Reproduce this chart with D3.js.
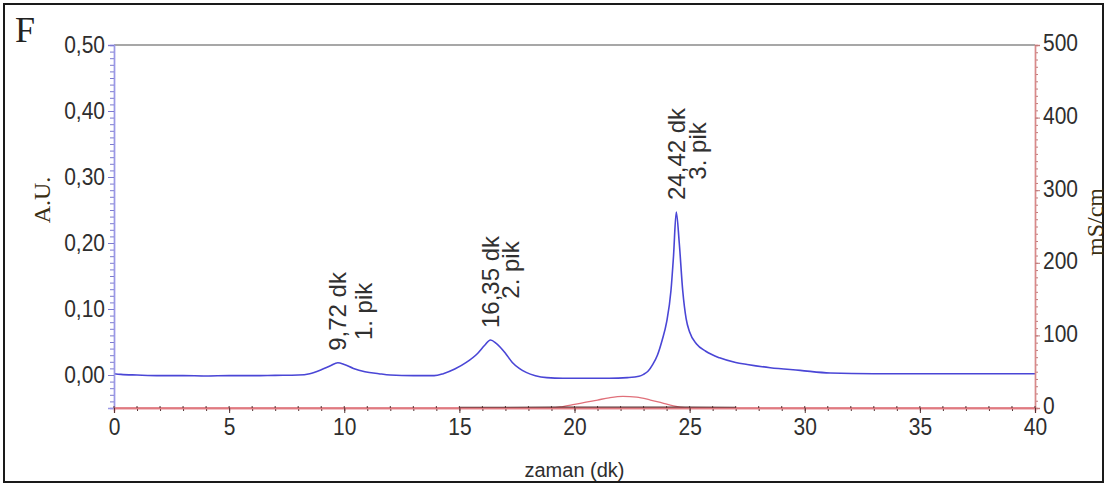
<!DOCTYPE html>
<html><head><meta charset="utf-8">
<script src="https://cdn.jsdelivr.net/npm/d3@7"></script>
<style>body{margin:0;background:#fff}svg{display:block}</style>
</head><body><svg id="c" width="1107" height="485"></svg>
<script>
// ---- data ----
const timeA = [0,0.3,1,2,3,4,5,6,7,8,8.5,9.0,9.4,9.72,10.0,10.4,10.9,11.5,12,13,13.9,14.3,14.8,15.3,15.8,16.1,16.35,16.6,17.0,17.3,17.6,17.9,18.3,18.8,19.5,20.5,21.5,22.3,22.8,23.0,23.2,23.4,23.6,23.8,24.0,24.19,24.3,24.42,24.55,24.7,24.85,25.0,25.3,25.7,26.3,27.0,27.5,28.5,29.8,31.1,33,36,38,40];
const absorb = [0.002,0.001,0.0,-0.001,-0.001,-0.0015,-0.001,-0.001,-0.0005,0.0,0.002,0.008,0.014,0.0185,0.016,0.010,0.005,0.002,0.0,-0.001,-0.001,0.002,0.009,0.019,0.033,0.045,0.053,0.048,0.033,0.019,0.010,0.004,-0.001,-0.004,-0.005,-0.005,-0.005,-0.004,-0.002,0.001,0.006,0.016,0.030,0.052,0.080,0.128,0.18,0.247,0.20,0.128,0.085,0.065,0.047,0.036,0.026,0.019,0.016,0.011,0.007,0.003,0.002,0.002,0.002,0.002];
const timeC = [0,19,19.5,20,20.5,21,21.5,22.1,22.7,23.3,23.8,24.3,24.8,25.2,40];
const cond = [0,0,2,5,8,11,14,16,15,11,7,3,0.5,0,0];
const timeD = [15,19,22,25,27];
const condD = [0.8,1,1,1,0.8];
const xTicks = [0,5,10,15,20,25,30,35,40];
const yLeftTicks = [0,0.1,0.2,0.3,0.4,0.5];
const yRightTicks = [0,100,200,300,400,500];
const peakTimes = [9.72,16.35,24.42];
const peakVals = [0.0185,0.053,0.247];
const peakLabel1 = ["9,72 dk","16,35 dk","24,42 dk"];
const peakLabel2 = ["1. pik","2. pik","3. pik"];

// ---- layout ----
const svg = d3.select("#c");
const m = {l:114, r:1035, t:45, b:408};
const x = d3.scaleLinear().domain([0,40]).range([m.l,m.r]);
const yL = d3.scaleLinear().domain([-0.05,0.5]).range([m.b,m.t]);
const yR = d3.scaleLinear().domain([0,500]).range([m.b,m.t]);
const sans = "'Liberation Sans', Arial, sans-serif";
const serif = "'Liberation Serif', 'Times New Roman', serif";

svg.append("rect").attr("x",4).attr("y",4).attr("width",1099).attr("height",478)
  .attr("fill","#fff").attr("stroke","#1a1a1a").attr("stroke-width",2);

// top border line
svg.append("line").attr("x1",m.l).attr("x2",m.r).attr("y1",m.t).attr("y2",m.t)
  .attr("stroke","#8a8a8a").attr("stroke-width",1.5);

// series
const lineA = d3.line().x((d,i)=>x(timeA[i])).y(d=>yL(d)).curve(d3.curveMonotoneX);
svg.append("path").datum(absorb).attr("d",lineA).attr("fill","none")
  .attr("stroke","#4a46d6").attr("stroke-width",1.6);

const lineC = d3.line().x((d,i)=>x(timeC[i])).y(d=>yR(d)).curve(d3.curveMonotoneX);
svg.append("path").datum(cond).attr("d",lineC).attr("fill","none")
  .attr("stroke","#e0707a").attr("stroke-width",1.3);

const lineD = d3.line().x((d,i)=>x(timeD[i])).y(d=>yR(d));
svg.append("path").datum(condD).attr("d",lineD).attr("fill","none")
  .attr("stroke","#3a1818").attr("stroke-width",1.4).attr("opacity",0.85);

// axes
function styleAxis(g, color, tcolor){
  g.select(".domain").attr("stroke",color).attr("stroke-width",1.4);
  g.selectAll(".tick line").attr("stroke",tcolor);
  g.selectAll(".tick text").attr("fill","#2e2e2e").attr("font-family",sans).attr("font-size",21)
    .attr("transform","scale(1,1.12)");
}
const fmtL = d => d3.format(".2f")(d).replace(".",",");

// left minor
const lMinor = d3.range(-5,51).map(i=>i/100);
svg.append("g").attr("transform",`translate(${m.l},0)`)
  .call(d3.axisLeft(yL).tickValues(lMinor).tickSize(4).tickFormat(""))
  .call(g=>styleAxis(g,"#9a98e6","#7c7ad0"));
svg.append("g").attr("transform",`translate(${m.l},0)`)
  .call(d3.axisLeft(yL).tickValues(yLeftTicks).tickSize(6).tickPadding(3).tickFormat(fmtL))
  .call(g=>styleAxis(g,"#9a98e6","#7c7ad0"));

// right
const rMinor = d3.range(0,51).map(i=>i*10);
svg.append("g").attr("transform",`translate(${m.r},0)`)
  .call(d3.axisRight(yR).tickValues(rMinor).tickSize(3).tickFormat(""))
  .call(g=>styleAxis(g,"#d88a8a","#c07a7a"));
svg.append("g").attr("transform",`translate(${m.r},0)`)
  .call(d3.axisRight(yR).tickValues(yRightTicks).tickSize(5).tickPadding(3).tickFormat(d3.format("d")))
  .call(g=>styleAxis(g,"#d88a8a","#c07a7a"))
  .call(g=>g.selectAll(".tick text").attr("y",-1.5));

// bottom
const xMinor = d3.range(0,41);
svg.append("g").attr("transform",`translate(0,${m.b})`)
  .call(d3.axisBottom(x).tickValues(xMinor).tickSize(3).tickFormat(""))
  .call(g=>styleAxis(g,"#e07a80","#553333"));
svg.append("g").attr("transform",`translate(0,${m.b})`)
  .call(d3.axisBottom(x).tickValues(xTicks).tickSize(5).tickPadding(4).tickFormat(d3.format("d")))
  .call(g=>styleAxis(g,"#e07a80","#553333"));
// small upward minor marks on x axis
svg.append("g").selectAll("line").data(xMinor).join("line")
  .attr("x1",d=>x(d)).attr("x2",d=>x(d)).attr("y1",m.b).attr("y2",m.b-2)
  .attr("stroke","#553333").attr("stroke-width",1);

// annotations
const colGap = [26,20,21];
const col2Shift = [0,-12,-3];
peakTimes.forEach((t,i)=>{
  const px = x(t), y0 = yL(peakVals[i]) - 12;
  const t1 = svg.append("text").attr("transform",`translate(${px},${y0}) rotate(-90)`)
    .attr("text-anchor","start").attr("dominant-baseline","central")
    .attr("font-family",sans).attr("font-size",24).attr("fill","#303030").text(peakLabel1[i]);
  const len = t1.node().getComputedTextLength();
  const yc = y0 - len/2 + col2Shift[i];
  svg.append("text").attr("transform",`translate(${px+colGap[i]},${yc}) rotate(-90)`)
    .attr("text-anchor","middle").attr("dominant-baseline","central")
    .attr("font-family",sans).attr("font-size",24).attr("fill","#303030").text(peakLabel2[i]);
});

// titles
svg.append("text").attr("x",15).attr("y",42).attr("font-family",serif).attr("font-size",36)
  .attr("fill","#222").text("F");
svg.append("text").attr("transform","translate(42,200) rotate(-90)").attr("text-anchor","middle")
  .attr("dominant-baseline","central").attr("font-family",serif).attr("font-size",24)
  .attr("fill","#3a2e12").text("A.U.");
svg.append("text").attr("transform","translate(1095,222) rotate(-90)").attr("text-anchor","middle")
  .attr("dominant-baseline","central").attr("font-family",serif).attr("font-size",24)
  .attr("fill","#3a2e12").text("mS/cm");
svg.append("text").attr("x",x(20)).attr("y",477).attr("text-anchor","middle")
  .attr("font-family",sans).attr("font-size",20).attr("fill","#2e2e2e").text("zaman (dk)");
</script></body></html>
